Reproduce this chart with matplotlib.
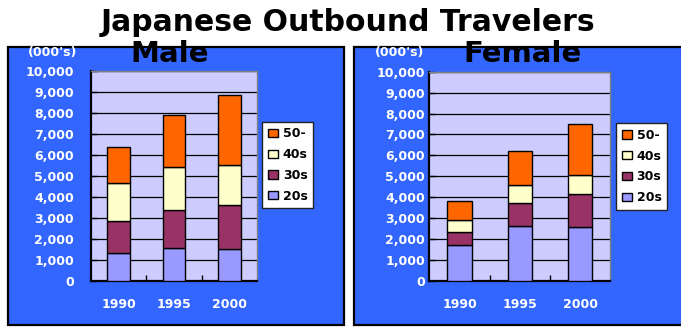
import matplotlib
matplotlib.use('Agg')
import matplotlib.pyplot as plt
from matplotlib.patches import Rectangle
from matplotlib.ticker import FuncFormatter, MultipleLocator, FixedLocator
import numpy as np

# ---- data (thousands of travelers, segment values) ----
years = ['1990', '1995', '2000']
age_groups = ['20s', '30s', '40s', '50-']
male_20s = [1320, 1560, 1510]
male_30s = [1550, 1820, 2120]
male_40s = [1780, 2030, 1880]
male_50p = [1750, 2490, 3350]
female_20s = [1710, 2640, 2590]
female_30s = [620, 1070, 1550]
female_40s = [570, 860, 920]
female_50p = [940, 1630, 2440]

colors = ['#9999FF', '#993366', '#FFFFCC', '#FF6600']
PANEL = '#3366FF'
PLOT_BG = '#CCCCFF'

W, H = 681, 327
fig = plt.figure(figsize=(W / 100, H / 100), dpi=100)
fig.patch.set_facecolor('white')


def fx(px):
    return px / W


def fy(py):
    return 1 - py / H


# blue panels
fig.patches.append(Rectangle((fx(8.3), fy(325.3)), fx(344.3) - fx(8.3), (325.3 - 47.3) / H,
                             transform=fig.transFigure, facecolor=PANEL, edgecolor='black',
                             linewidth=1.6, zorder=0))
fig.patches.append(Rectangle((fx(354.3), fy(325.3)), fx(700) - fx(354.3), (325.3 - 47.3) / H,
                             transform=fig.transFigure, facecolor=PANEL, edgecolor='black',
                             linewidth=1.6, zorder=0))

FONT = 'DejaVu Sans'


def make_panel(rect, series, ypad, legend_xy, subtitle, sub_x, units_x):
    ax = fig.add_axes(rect)
    ax.set_zorder(2)
    ax.set_facecolor(PLOT_BG)
    x = np.arange(len(years))
    bottom = np.zeros(len(years))
    handles = []
    for vals, c, lab in zip(series, colors, age_groups):
        b = ax.bar(x, vals, width=0.4, bottom=bottom, color=c, edgecolor='black',
                   linewidth=1.0, label=lab, zorder=3)
        handles.append(b)
        bottom = bottom + np.array(vals)
    ax.set_xlim(-0.5, 2.5)
    ax.set_ylim(0, 10000)
    ax.yaxis.set_major_locator(MultipleLocator(1000))
    ax.yaxis.set_major_formatter(FuncFormatter(lambda v, p: f'{int(v):,}'))
    ax.grid(axis='y', color='black', linewidth=0.9, zorder=1)
    ax.set_axisbelow(True)
    ax.set_xticks(x)
    ax.set_xticklabels(years)
    ax.xaxis.set_minor_locator(FixedLocator([0.5, 1.5]))
    ax.tick_params(axis='x', which='major', length=0, pad=12.5, labelcolor='white',
                   labelsize=9)
    ax.tick_params(axis='x', which='minor', direction='in', length=4, width=1, color='black')
    ax.tick_params(axis='y', direction='in', length=4, width=1, color='black', pad=ypad,
                   labelcolor='white', labelsize=9)
    for lab in ax.get_xticklabels() + ax.get_yticklabels():
        lab.set_fontweight('bold')
        lab.set_family(FONT)
    for s in ['top', 'right']:
        ax.spines[s].set_color('#808080')
        ax.spines[s].set_linewidth(1.0)
    for s in ['left', 'bottom']:
        ax.spines[s].set_color('black')
        ax.spines[s].set_linewidth(1.6)
    leg = ax.legend(handles[::-1], age_groups[::-1], loc='upper left',
                    bbox_to_anchor=(fx(legend_xy[0]), fy(legend_xy[1])),
                    bbox_transform=fig.transFigure, borderaxespad=0, frameon=True,
                    fancybox=False, framealpha=1, edgecolor='#222222', facecolor='white',
                    handlelength=0.8, handleheight=0.65, handletextpad=0.4,
                    labelspacing=0.62, borderpad=0.45,
                    prop={'family': FONT, 'weight': 'bold', 'size': 9})
    leg.get_frame().set_linewidth(1.0)
    fig.text(fx(sub_x), fy(61.7), subtitle, ha='center', va='baseline', fontsize=21,
             fontweight='bold', family=FONT, color='black', zorder=5)
    fig.text(fx(units_x), fy(52.5), "(000's)", ha='center', va='center', fontsize=9,
             fontweight='bold', family=FONT, color='white', zorder=4)
    return ax


make_panel([fx(90.7), fy(281), (257.3 - 90.7) / W, (281 - 71) / H],
           [male_20s, male_30s, male_40s, male_50p], 12.0, (262.3, 121.7),
           'Male', 169.7, 52.5)
make_panel([fx(429.3), fy(281), (610.3 - 429.3) / W, (281 - 71.7) / H],
           [female_20s, female_30s, female_40s, female_50p], 3.2, (616, 123.3),
           'Female', 522, 399.5)

fig.text(fx(348), fy(30.7), 'Japanese Outbound Travelers', ha='center', va='baseline',
         fontsize=21.5, fontweight='bold', family=FONT, color='black')

fig.savefig('out.png', dpi=100)
